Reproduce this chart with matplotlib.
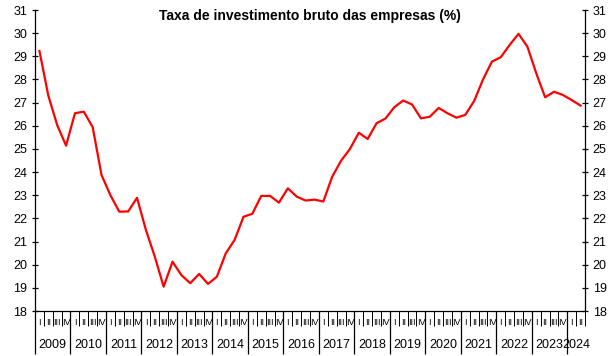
import numpy as np
import matplotlib
matplotlib.use("Agg")
import matplotlib.pyplot as plt

plt.rcParams['font.family'] = ['Liberation Sans', 'DejaVu Sans']

# taxa de investimento trimestral, 2009 T1 .. 2024 T2
taxa = [29.23, 27.30, 26.03, 25.14, 26.54, 26.61, 25.94, 23.87,
        23.00, 22.29, 22.30, 22.89, 21.50, 20.35, 19.05, 20.13,
        19.55, 19.20, 19.60, 19.17, 19.48, 20.49, 21.07, 22.07,
        22.20, 22.97, 22.97, 22.68, 23.30, 22.94, 22.77, 22.81,
        22.73, 23.80, 24.49, 25.00, 25.70, 25.43, 26.11, 26.31,
        26.80, 27.09, 26.92, 26.32, 26.39, 26.77, 26.54, 26.35,
        26.47, 27.07, 28.00, 28.77, 28.96, 29.49, 29.97, 29.42,
        28.27, 27.23, 27.47, 27.33, 27.11, 26.87]
anos = [str(a) for a in range(2009, 2025)]
trimestres = ["I", "II", "III", "IV"]
titulo = "Taxa de investimento bruto das empresas (%)"

x = np.arange(len(taxa))

fig = plt.figure(figsize=(6.11, 3.56), dpi=100)
ax = fig.add_axes([0.0573, 0.1264, 0.9002, 0.8455])

ax.plot(x, taxa, color="#ff0000", lw=1.6)

ax.set_ylim(18, 31)
ax.set_yticks(range(18, 32))
ax.set_xlim(-0.5, len(taxa) - 0.5)

ax.spines['top'].set_visible(False)
ax.tick_params(axis='y', which='both', direction='inout', length=5, width=0.9,
               labelsize=9, left=True, right=True, labelleft=True, labelright=True, pad=3)

# divisoes dos trimestres e dos anos
ax.set_xticks(np.arange(0, len(taxa), 4) - 0.5, minor=False)
ax.set_xticks(np.arange(len(taxa) + 1) - 0.5, minor=True)
ax.set_xticklabels([])
ax.tick_params(axis='x', which='major', direction='out', length=31, width=0.9)
ax.tick_params(axis='x', which='minor', direction='out', length=11, width=0.7)

tr = ax.get_xaxis_transform()
for i in range(len(taxa)):
    ax.text(i, -0.037, trimestres[i % 4], transform=tr, ha='center', va='center',
            fontsize=6.5, clip_on=False)
for k, ano in enumerate(anos):
    n = min(4, len(taxa) - 4 * k)
    ax.text(4 * k + (n - 1) / 2, -0.113, ano, transform=tr, ha='center', va='center',
            fontsize=9, clip_on=False)

for s in ['left', 'right', 'bottom']:
    ax.spines[s].set_linewidth(0.9)

ax.set_title(titulo, fontsize=10, fontweight='bold', y=0.94)

fig.savefig("out.png", dpi=100)
